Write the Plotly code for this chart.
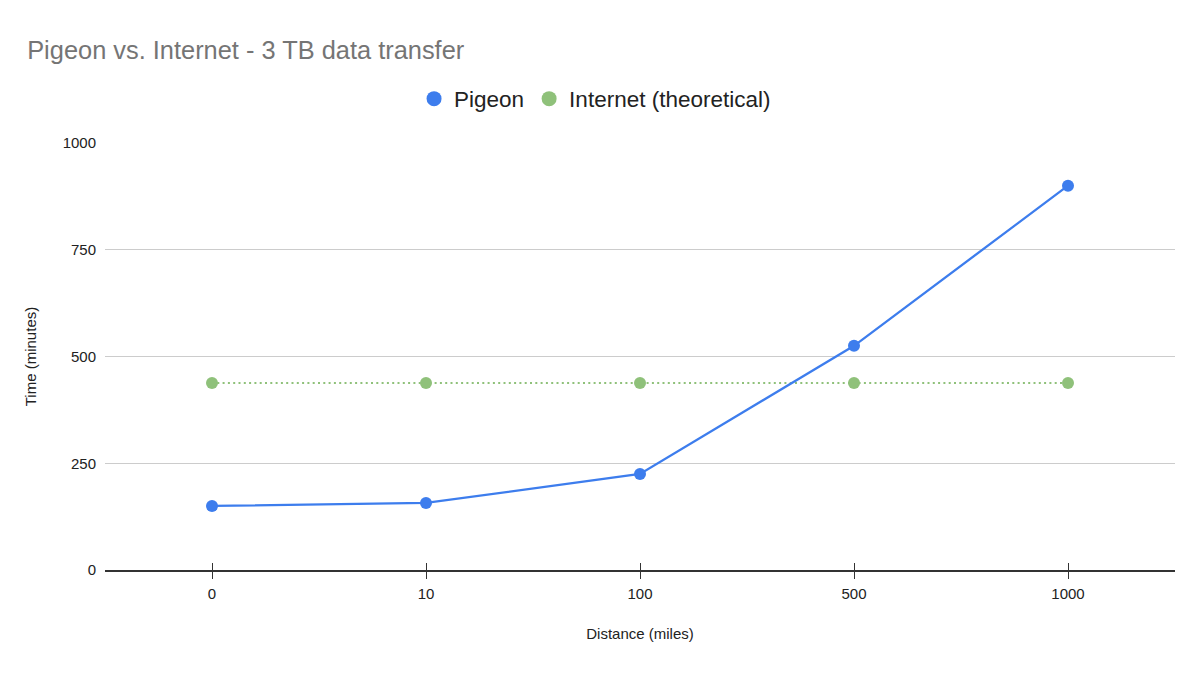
import plotly.graph_objects as go

distances = ["0", "10", "100", "500", "1000"]
pigeon = [150, 157, 225, 525, 900]
internet = [438, 438, 438, 438, 438]
y_ticks = [0, 250, 500, 750, 1000]

font = "Arial, 'Liberation Sans', sans-serif"
blue = "#3d7ded"
green = "#8fc17a"

fig = go.Figure()
fig.add_trace(go.Scatter(
    x=distances, y=internet, name="Internet (theoretical)", mode="lines+markers",
    line=dict(color=green, width=2, dash="2px,3.3px"),
    marker=dict(color=green, size=12), showlegend=False,
))
fig.add_trace(go.Scatter(
    x=distances, y=pigeon, name="Pigeon", mode="lines+markers",
    line=dict(color=blue, width=2.3),
    marker=dict(color=blue, size=12), showlegend=False,
))
# legend entries (circle only)
fig.add_trace(go.Scatter(x=[distances[0]], y=[None], name="Pigeon", mode="markers",
                         marker=dict(color=blue, size=15), legendrank=1))
fig.add_trace(go.Scatter(x=[distances[0]], y=[None], name="Internet (theoretical)", mode="markers",
                         marker=dict(color=green, size=15), legendrank=2))

fig.update_layout(
    width=1200, height=675,
    paper_bgcolor="white", plot_bgcolor="white",
    margin=dict(l=97, r=33, t=135, b=113),
    font=dict(family=font, color="#222222", size=15),
    title=dict(text="Pigeon vs. Internet - 3 TB data transfer", x=0.016, xanchor="left",
               y=0.938, yanchor="middle", font=dict(size=25.4, color="#757575", family=font)),
    legend=dict(orientation="h", x=0.458, xanchor="center", y=1.103, yanchor="middle",
                font=dict(size=22.5, color="#222222"), itemsizing="trace",
                itemwidth=30),
    showlegend=True,
    xaxis=dict(type="category", categoryorder="array", categoryarray=distances,
               range=[-0.5, 4.5], showgrid=False, zeroline=False,
               showline=True, linecolor="#333333", linewidth=1.5,
               ticks="outside", ticklen=7, tickcolor="#333333", tickwidth=1,
               tickfont=dict(size=15, color="#222222"), ticklabelstandoff=2,
               title=dict(text="Distance (miles)", font=dict(size=15, color="#222222"), standoff=28)),
    xaxis2=dict(type="category", categoryorder="array", categoryarray=distances,
                range=[-0.5, 4.5], overlaying="x", side="bottom", matches="x",
                showgrid=False, zeroline=False, showline=False,
                ticks="inside", ticklen=7, tickcolor="#333333", tickwidth=1,
                showticklabels=False, tickvals=distances),
    yaxis=dict(range=[0, 1000], tickvals=y_ticks, showgrid=True, gridcolor="#cccccc",
               gridwidth=1, zeroline=False, showline=False, ticks="",
               tickfont=dict(size=15, color="#222222"), ticklabelstandoff=8,
               title=dict(text="Time (minutes)", font=dict(size=15, color="#222222"), standoff=22)),
)
fig.add_trace(go.Scatter(x=distances, y=[None]*5, xaxis="x2", showlegend=False,
                         hoverinfo="skip", mode="lines"))

fig.write_html("out.html")
